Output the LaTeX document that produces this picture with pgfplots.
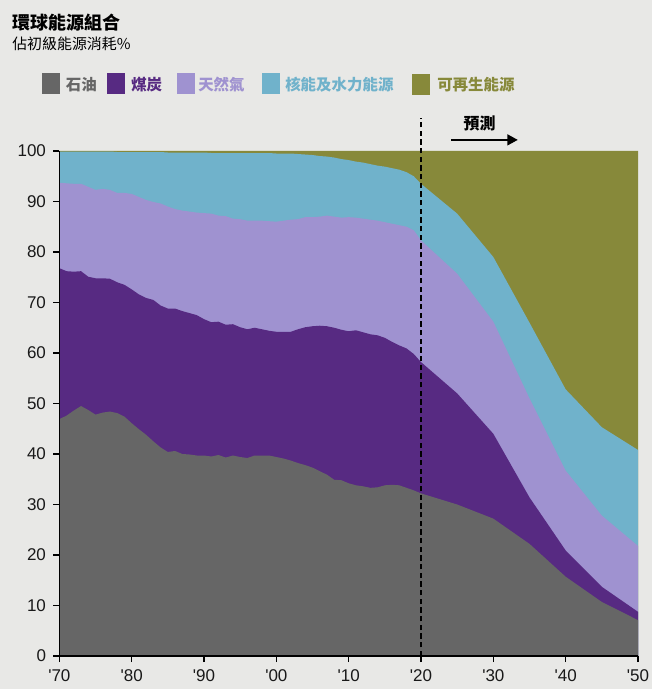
\documentclass[border=0pt]{standalone}
\usepackage{pgfplots}
\pgfplotsset{compat=1.18}
\usepackage{pgfplotstable}
\usepackage{fontspec}
\usetikzlibrary{arrows.meta}
\setmainfont{Liberation Sans}
\newfontfamily\cjk{Noto Sans CJK TC}

\definecolor{bgc}{HTML}{E8E8E6}
\definecolor{oilc}{HTML}{666666}
\definecolor{coalc}{HTML}{572A82}
\definecolor{gasc}{HTML}{9F92D0}
\definecolor{nucc}{HTML}{70B2CB}
\definecolor{renc}{HTML}{87893A}

% cumulative tops of each band (percent of primary energy)
\pgfplotstableread{
year oil  coal  gas  nuc  ren
1970 46.9 76.8 93.7 99.9 100
1971 47.6 76.2 93.6 99.9 100
1972 48.6 76.1 93.5 99.9 100
1973 49.5 76.2 93.5 99.9 100
1974 48.7 75.1 92.9 99.9 100
1975 47.8 74.8 92.3 99.9 100
1976 48.2 74.8 92.5 99.9 100
1977 48.4 74.7 92.3 99.9 100
1978 48.1 74.0 91.7 99.8 100
1979 47.4 73.5 91.7 99.8 100
1980 46.1 72.6 91.5 99.8 100
1981 44.9 71.6 90.9 99.8 100
1982 43.8 70.9 90.3 99.8 100
1983 42.5 70.5 89.9 99.8 100
1984 41.3 69.4 89.6 99.8 100
1985 40.4 68.8 89.0 99.7 100
1986 40.6 68.8 88.5 99.7 100
1987 40.0 68.3 88.2 99.7 100
1988 39.9 67.9 88.0 99.7 100
1989 39.7 67.5 87.8 99.7 100
1990 39.7 66.7 87.7 99.7 100
1991 39.5 66.1 87.6 99.6 100
1992 39.8 66.2 87.2 99.6 100
1993 39.3 65.6 87.1 99.6 100
1994 39.7 65.7 86.6 99.6 100
1995 39.4 65.1 86.5 99.6 100
1996 39.2 64.7 86.2 99.6 100
1997 39.7 65.0 86.2 99.6 100
1998 39.7 64.7 86.2 99.6 100
1999 39.7 64.4 86.1 99.6 100
2000 39.4 64.2 86.0 99.5 100
2001 39.1 64.2 86.2 99.5 100
2002 38.7 64.2 86.4 99.5 100
2003 38.2 64.7 86.5 99.4 100
2004 37.8 65.1 86.9 99.3 100
2005 37.3 65.3 86.9 99.2 100
2006 36.6 65.4 87.0 99.0 100
2007 35.9 65.3 87.2 98.9 100
2008 34.9 65.0 87.0 98.7 100
2009 34.8 64.6 86.8 98.4 100
2010 34.2 64.3 86.9 98.2 100
2011 33.8 64.5 86.8 97.9 100
2012 33.6 64.1 86.6 97.7 100
2013 33.3 63.7 86.4 97.4 100
2014 33.4 63.5 86.2 97.1 100
2015 33.8 63.0 85.9 96.9 100
2016 33.9 62.2 85.6 96.6 100
2017 33.8 61.5 85.3 96.3 100
2018 33.3 60.9 85.0 95.8 100
2019 32.8 59.8 84.3 95.0 100
2020 32.2 58.2 82.3 93.5 100
2025 30.0 52.0 75.7 87.6 100
2030 27.2 44.0 66.2 79.0 100
2035 22.2 31.4 51.0 66.0 100
2040 15.7 20.9 36.7 52.8 100
2045 10.7 13.7 27.8 45.3 100
2050 7.1  8.75 21.8 40.8 100
}\energy

\begin{document}
\begin{tikzpicture}
\begin{scope}[x=0.75pt,y=0.75pt]
  \fill[bgc] (0,0) rectangle (652,689);
  \useasboundingbox (0,0) rectangle (652,689);
  % title
  \node[anchor=base west, inner sep=0, font=\cjk\bfseries\fontsize{13.5}{15}\selectfont] at (12,659) {環球能源組合};
  \node[anchor=base west, inner sep=0, font=\cjk\fontsize{11.2}{14}\selectfont] at (12,639) {佔初級能源消耗\%};
  % legend
  \begin{scope}[every node/.style={anchor=base west, inner sep=0, font=\cjk\bfseries\fontsize{11.6}{14}\selectfont}]
    \fill[oilc]  (42.3,595) rectangle (60,616);
    \node[text=oilc] at (65.7,598) {石油};
    \fill[coalc] (106.7,595) rectangle (124.7,616);
    \node[text=coalc] at (131,598) {煤炭};
    \fill[gasc]  (176.7,595) rectangle (194.7,616);
    \node[text=gasc] at (198,598) {天然氣};
    \fill[nucc]  (262.3,595) rectangle (280,616);
    \node[text=nucc] at (285,598) {核能及水力能源};
    \fill[renc]  (412.3,594) rectangle (430,615);
    \node[text=renc] at (437,598) {可再生能源};
  \end{scope}
\end{scope}

\begin{axis}[
  at={(44.5pt,24.75pt)}, anchor=south west,
  width=434pt, height=378.75pt, scale only axis,
  xmin=1970, xmax=2050, ymin=0, ymax=100,
  axis x line*=bottom, axis y line*=left,
  axis line style={line width=1pt},
  xtick={1970,1980,...,2050},
  xticklabels={\textquotesingle70,\textquotesingle80,\textquotesingle90,\textquotesingle00,\textquotesingle10,\textquotesingle20,\textquotesingle30,\textquotesingle40,\textquotesingle50},
  ytick={0,10,...,100},
  tick align=outside, major tick length=4.5pt,
  tick style={black, line width=0.9pt},
  ticklabel style={font=\fontsize{12.75}{14}\selectfont, text=black!90},
  xticklabel style={yshift=-2.5pt},
  yticklabel style={xshift=-2pt},
  /pgf/number format/assume math mode=true,
  axis on top, clip=false,
]
\addplot[fill=renc, draw=none] table[x=year, y=ren]{\energy} \closedcycle;
\addplot[fill=nucc, draw=none] table[x=year, y=nuc]{\energy} \closedcycle;
\addplot[fill=gasc, draw=none] table[x=year, y=gas]{\energy} \closedcycle;
\addplot[fill=coalc, draw=none] table[x=year, y=coal]{\energy} \closedcycle;
\addplot[fill=oilc, draw=none] table[x=year, y=oil]{\energy} \closedcycle;

\draw[black, line width=1.1pt, dash pattern=on 4pt off 2.5pt] (axis cs:2020,0) -- (axis cs:2020,106.5);
\draw[black, line width=1.9pt, -{Triangle[length=8pt,width=8pt]}] (axis cs:2024.2,102.2) -- (axis cs:2033.4,102.2);
\node[font=\cjk\bfseries\fontsize{12}{14}\selectfont] at (axis cs:2028.1,105.5) {預測};
\end{axis}
\end{tikzpicture}
\end{document}
